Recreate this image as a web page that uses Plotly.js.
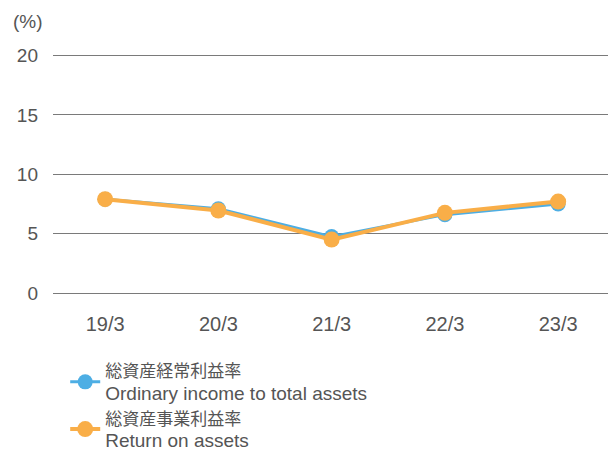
<!DOCTYPE html>
<html>
<head>
<meta charset="utf-8">
<script src="https://cdn.plot.ly/plotly-3.0.1.min.js"></script>
<style>html,body{margin:0;padding:0;background:#fff}#chart{width:608px;height:452px}</style>
</head>
<body>
<div id="chart"></div>
<script>
const categories = ["19/3", "20/3", "21/3", "22/3", "23/3"];
const ordinaryIncomeToTotalAssets = [7.9, 7.1, 4.75, 6.6, 7.5];
const returnOnAssets = [7.9, 6.95, 4.5, 6.75, 7.7];
const seriesNamesJa = ["総資産経常利益率", "総資産事業利益率"];
const seriesNamesEn = ["Ordinary income to total assets", "Return on assets"];
const yTicks = [0, 5, 10, 15, 20];
const unitLabel = "(%)";

const fontFamily = "'Liberation Sans', Arial, 'Noto Sans CJK JP', sans-serif";
const legendName = (i) =>
  '<span style="font-size:17px">' + seriesNamesJa[i] + '</span><br>' +
  '<span style="font-size:19px">' + seriesNamesEn[i] + '</span>';

const traces = [
  {
    x: categories, y: ordinaryIncomeToTotalAssets, name: legendName(0),
    type: "scatter", mode: "lines+markers",
    line: {color: "#4DAEE4", width: 3},
    marker: {color: "#4DAEE4", size: 15}
  },
  {
    x: categories, y: returnOnAssets, name: legendName(1),
    type: "scatter", mode: "lines+markers",
    line: {color: "#F9AE48", width: 4},
    marker: {color: "#F9AE48", size: 16}
  }
];
const layout = {
  width: 608, height: 452,
  margin: {l: 53, r: 0, t: 52.4, b: 159, autoexpand: false},
  paper_bgcolor: "#fff", plot_bgcolor: "#fff",
  font: {family: fontFamily, size: 17, color: "#555"},
  showlegend: true,
  legend: {
    xref: "paper", yref: "paper", x: 0.022, y: -0.25,
    xanchor: "left", yanchor: "top",
    orientation: "v", tracegroupgap: 0, itemwidth: 30, borderwidth: 0,
    font: {family: fontFamily, size: 17, color: "#555"}
  },
  xaxis: {
    type: "category", range: [-0.46, 4.44], showgrid: false, zeroline: false,
    showline: false, ticks: "", ticklabelstandoff: 17,
    tickfont: {size: 20, color: "#555"}, fixedrange: true
  },
  yaxis: {
    range: [0, 20.3], tickvals: yTicks, ticktext: yTicks.map(String),
    showgrid: true, gridcolor: "#7a7a7a", gridwidth: 1,
    zeroline: true, zerolinecolor: "#7a7a7a", zerolinewidth: 1,
    showline: false, ticks: "", ticklabelstandoff: 14,
    tickfont: {size: 19, color: "#555"}, fixedrange: true
  },
  annotations: [{
    text: unitLabel, xref: "paper", yref: "paper", x: -0.076, y: 1.128,
    xanchor: "left", yanchor: "middle", showarrow: false,
    font: {family: fontFamily, size: 19, color: "#555"}
  }]
};
Plotly.newPlot("chart", traces, layout, {displayModeBar: false, staticPlot: true});
</script>
</body>
</html>
